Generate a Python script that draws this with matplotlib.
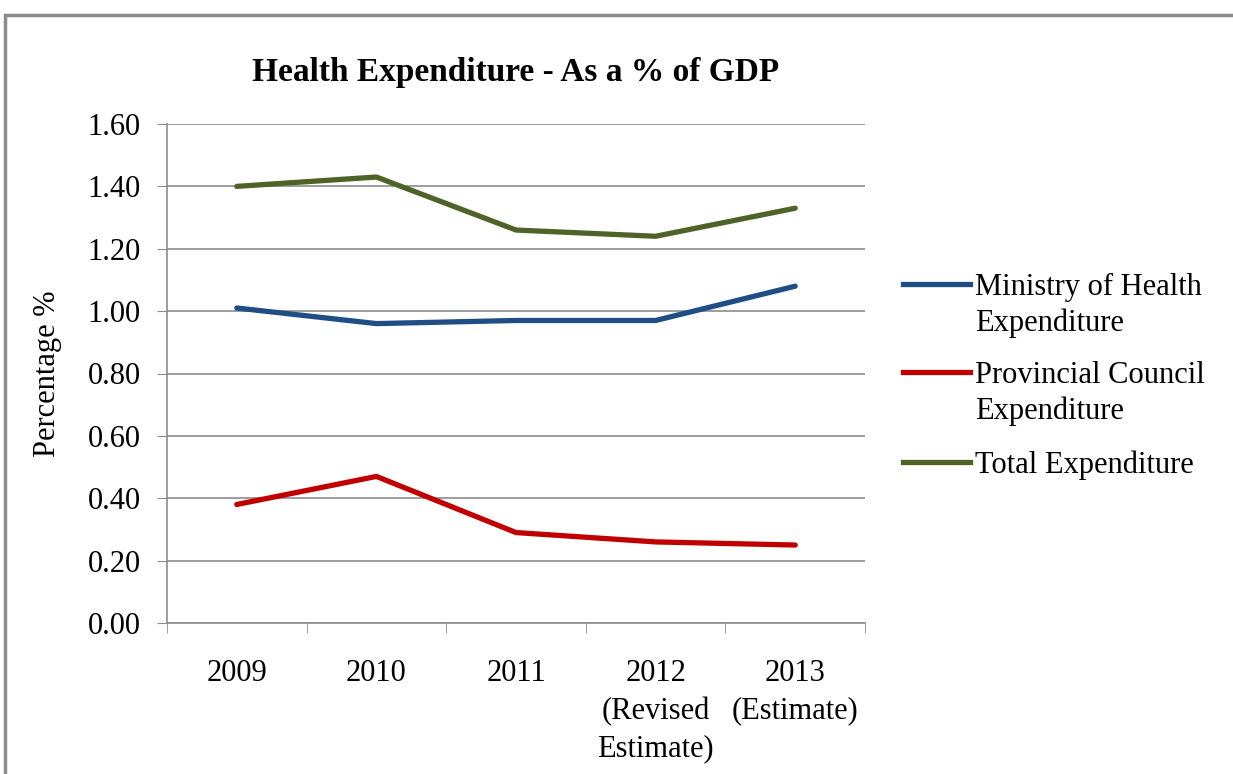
import matplotlib.pyplot as plt
from matplotlib.patches import Rectangle
from matplotlib.lines import Line2D

# Data
years = ["2009", "2010", "2011", "2012\n(Revised\nEstimate)", "2013\n(Estimate)"]
ministry = [1.01, 0.96, 0.97, 0.97, 1.08]
provincial = [0.38, 0.47, 0.29, 0.26, 0.25]
total = [1.40, 1.43, 1.26, 1.24, 1.33]

series = [
    ("Ministry of Health\nExpenditure", ministry, '#1f4e85'),
    ("Provincial Council\nExpenditure", provincial, '#c00000'),
    ("Total Expenditure", total, '#4f6228'),
]

plt.rcParams['font.family'] = 'Liberation Serif'
W, H = 1233, 774

fig = plt.figure(figsize=(12.33, 7.74), dpi=100)
ax = fig.add_axes([167 / W, 1 - 623 / H, (865 - 167) / W, (623 - 124) / H])

# outer chart frame (cropped at right and bottom)
fig.patches.append(Rectangle((5 / W, -0.05), 1.1, 1 - 15 / H + 0.05,
                             transform=fig.transFigure, fill=False,
                             edgecolor='#8c8c8c', linewidth=2.5))

x = range(len(years))
for name, vals, col in series:
    ax.plot(x, vals, color=col, lw=3.8, solid_capstyle='round')

ax.set_xlim(-0.5, 4.5)
ax.set_ylim(0, 1.6)
ax.set_yticks([i * 0.2 for i in range(9)])
ax.set_yticklabels([f"{i * 0.2:.2f}" for i in range(9)], fontsize=22)
ax.yaxis.grid(True, color='#8c8c8c', lw=1.2)
ax.set_axisbelow(True)

ax.set_xticks(list(x))
ax.set_xticklabels(years, fontsize=22, linespacing=1.38, va='top')
ax.set_xticks([i - 0.5 for i in range(len(years) + 1)], minor=True)
ax.tick_params(axis='x', which='major', length=0, pad=26)
ax.tick_params(axis='x', which='minor', length=7, color='#8c8c8c', direction='out')
ax.tick_params(axis='y', length=7, color='#8c8c8c', pad=12)

for s in ['top', 'right']:
    ax.spines[s].set_visible(False)
for s in ['left', 'bottom']:
    ax.spines[s].set_color('#8c8c8c')
    ax.spines[s].set_linewidth(1.2)

ax.set_ylabel("Percentage %", fontsize=22, labelpad=18)
ax.set_title("Health Expenditure - As a % of GDP", fontsize=24, fontweight='bold', pad=31)

# legend drawn by hand so the key line sits on the first text line, as in Excel
leg_y = [284, 372, 462]
line_gap = 36
for (name, vals, col), yy in zip(series, leg_y):
    fy = 1 - yy / H
    fig.add_artist(Line2D([903 / W, 970 / W], [fy, fy], color=col, lw=3.8,
                          transform=fig.transFigure))
    for k, part in enumerate(name.split("\n")):
        fig.text(975 / W, 1 - (yy + k * line_gap) / H, part, fontsize=22,
                 va='center_baseline', ha='left')

fig.savefig('out.png', dpi=100)
